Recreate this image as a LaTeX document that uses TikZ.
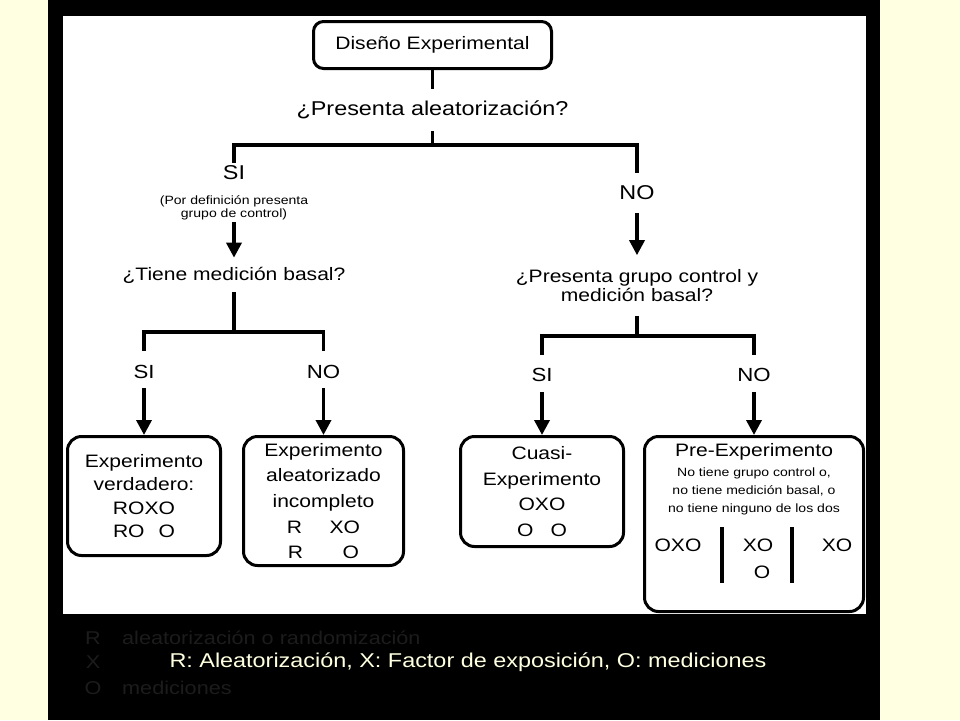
\documentclass[tikz,border=0pt]{standalone}
\usepackage{fontspec}
\setmainfont[FakeStretch=1.17]{Liberation Sans}
\usetikzlibrary{arrows.meta}
\definecolor{bgyellow}{RGB}{255,255,225}
\definecolor{ghost}{gray}{0.11}
\begin{document}
\begin{tikzpicture}[x=1pt,y=-1pt,
  conn/.style={line width=3.5pt},
  arr/.style={line width=3.5pt,-{Triangle[width=15pt,length=15pt]}},
  box/.style={draw,line width=3pt,rounded corners=14pt,align=center,inner sep=0pt},
  big/.style={font=\fontsize{20}{22}\selectfont},
  lab/.style={font=\fontsize{19}{20}\selectfont,inner xsep=2pt,inner ysep=9.5pt},
  ques/.style={align=center,font=\fontsize{18}{19}\selectfont},
  ghosttext/.style={text=ghost,anchor=west,font=\fontsize{18.5}{20}\selectfont,inner sep=0pt},
]
% background panels
\fill[bgyellow] (0,0) rectangle (960,720);
\fill[black] (48,0) rectangle (880,720);
\fill[white] (63,16) rectangle (866,614);
\useasboundingbox (0,0) rectangle (960,720);

% top
\node[draw,line width=3pt,rounded corners=10pt,minimum width=238pt,minimum height=47pt,
      font=\fontsize{18}{20}\selectfont] (title) at (432.5,45) {Diseño Experimental};
\node[big,inner ysep=12pt] (q1) at (432.5,110) {¿Presenta aleatorización?};
\coordinate (j1) at (432.5,145);
\draw[conn] (title.south) -- (q1.north);
\draw[conn] (q1.south) -- (j1);

\node[big,inner ysep=3pt] (si1) at (234,173) {SI};
\node[align=center,font=\fontsize{12}{12.5}\selectfont,inner ysep=2pt] (note) at (234,208)
  {(Por definición presenta\\grupo de control)};
\node[big,inner ysep=12.5pt] (no1) at (637,193) {NO};
\draw[conn] (si1.north) |- (j1) -| (no1.north);

% left branch
\node[ques,inner ysep=9pt] (q2) at (234,275) {¿Tiene medición basal?};
\draw[arr] (note.south) -- (q2.north);
\coordinate (j2) at (234,332);
\draw[conn] (q2.south) -- (j2);
\node[lab] (si2) at (144,372) {SI};
\node[lab] (no2) at (323.5,372) {NO};
\draw[conn,shorten <=5pt,shorten >=5pt] (si2.north) |- (j2) -| (no2.north);

% right branch
\node[ques,inner ysep=14pt] (q3) at (637,285.5) {¿Presenta grupo control y\\medición basal?};
\draw[arr] (no1.south) -- (q3.north);
\coordinate (j3) at (637,336);
\draw[conn] (q3.south) -- (j3);
\node[lab,inner ysep=10pt] (si3) at (542,375) {SI};
\node[lab,inner ysep=10pt] (no3) at (754,375) {NO};
\draw[conn,shorten <=3pt,shorten >=3pt] (si3.north) |- (j3) -| (no3.north);

% result boxes
\node[box,minimum width=153pt,minimum height=119pt,font=\fontsize{18}{23.3}\selectfont] (box1) at (144,496)
  {Experimento\\verdadero:\\ROXO\\RO\hspace{14pt}O};
\node[box,minimum width=160pt,minimum height=129pt,font=\fontsize{18}{25.7}\selectfont] (box2) at (323.5,501)
  {Experimento\\aleatorizado\\incompleto\\R\hspace{27.5pt}XO\\R\hspace{39.5pt}O};
\node[box,minimum width=163pt,minimum height=110pt,font=\fontsize{18}{25.5}\selectfont] (box3) at (542,491.5)
  {Cuasi-\\Experimento\\OXO\\O\hspace{17pt}O};
\node[box,minimum width=219pt,minimum height=175pt] (box4) at (754,524) {};

\draw[arr] (si2.south) -- (box1.north);
\draw[arr] (no2.south) -- (box2.north);
\draw[arr] (si3.south) -- (box3.north);
\draw[arr] (no3.south) -- (box4.north);

% contents of Pre-Experimento box
\node[font=\fontsize{18}{20}\selectfont] (pre) at (754,452) {Pre-Experimento};
\node[align=center,font=\fontsize{12}{18}\selectfont] (desc) at (754,491)
  {No tiene grupo control o,\\no tiene medición basal, o\\no tiene ninguno de los dos};
\node[font=\fontsize{18}{20}\selectfont] (d1) at (678,545) {OXO};
\node[font=\fontsize{18}{20}\selectfont] (d2) at (758,545) {XO};
\node[font=\fontsize{18}{20}\selectfont] (d2b) at (762,572) {O};
\node[font=\fontsize{18}{20}\selectfont] (d3) at (837,545) {XO};
\coordinate (b1t) at (722,527); \coordinate (b1b) at (722,583);
\coordinate (b2t) at (792,527); \coordinate (b2b) at (792,583);
\draw[line width=4pt] (b1t) -- (b1b);
\draw[line width=4pt] (b2t) -- (b2b);

% faint legend underneath
\node[text=ghost,font=\fontsize{18.5}{20}\selectfont] (gR) at (93,638) {R};
\node[ghosttext] (gR2) at (122,638) {aleatorización o randomización};
\node[text=ghost,font=\fontsize{18.5}{20}\selectfont] (gX) at (93,662) {X};
\node[text=ghost,font=\fontsize{18.5}{20}\selectfont] (gO) at (93,688) {O};
\node[ghosttext] (gO2) at (122,688) {mediciones};

% legend
\node[text=bgyellow,font=\fontsize{20}{22}\selectfont] (legend) at (468,662)
  {R: Aleatorización, X: Factor de exposición, O: mediciones};
\end{tikzpicture}
\end{document}
